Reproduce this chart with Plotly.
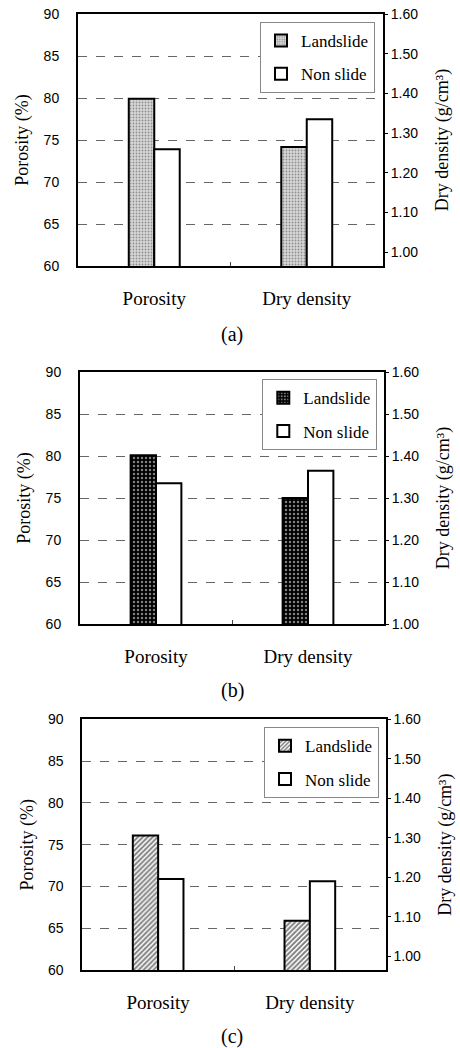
import plotly.graph_objects as go

# ---------------- data ----------------
categories = ["Porosity", "Dry density"]
panel_labels = ["(a)", "(b)", "(c)"]
series_names = ["Landslide", "Non slide"]

porosity_landslide = [79.9, 80.1, 76.1]     # %
porosity_nonslide = [73.9, 76.75, 70.9]     # %
density_landslide = [1.265, 1.30, 1.09]     # g/cm3
density_nonslide = [1.335, 1.365, 1.19]     # g/cm3

left_ticks = [60, 65, 70, 75, 80, 85, 90]
right_ticks = [1.00, 1.10, 1.20, 1.30, 1.40, 1.50, 1.60]

# ---------------- styling / layout geometry ----------------
W, H = 460, 1048
SERIF = "Liberation Serif, Times New Roman, serif"
SANS = "Liberation Sans, Arial, sans-serif"

# plot-area boxes in pixels: (left, right, top, bottom)
boxes = [(78, 383, 14, 266), (80, 384, 372, 624), (82.3, 385.7, 719.3, 970)]
right_ranges = [[0.965, 1.60], [1.00, 1.60], [0.965, 1.60]]
legend_pos = [(375, 22), (377.3, 379.3), (379, 727.3)]
caption_pos = [(232, 335), (232, 690), (232, 1036.7)]
patterns = [
    dict(shape=".", size=3, solidity=0.3, fgcolor="#444", bgcolor="#d8d8d8"),
    dict(shape=".", size=4, solidity=0.3, fgcolor="white", bgcolor="black"),
    dict(shape="/", size=3.5, solidity=0.55, fgcolor="black", bgcolor="white"),
]
BAR_W = 0.167

fig = go.Figure()
layout = dict(
    width=W, height=H, margin=dict(l=0, r=0, t=0, b=0),
    paper_bgcolor="white", plot_bgcolor="white",
    barmode="overlay", annotations=[],
)

for i in range(3):
    xa = "x" if i == 0 else f"x{i+1}"
    yl = "y" if i == 0 else f"y{2*i+1}"
    yr = f"y{2*i+2}"
    leg = "legend" if i == 0 else f"legend{i+1}"
    line = dict(color="black", width=2)

    fig.add_trace(go.Bar(x=[categories[0]], y=[porosity_landslide[i]], xaxis=xa, yaxis=yl,
                         name=series_names[0], legend=leg, legendgroup="L", showlegend=True,
                         width=BAR_W, offset=-BAR_W,
                         marker=dict(color="white", pattern=patterns[i], line=line)))
    fig.add_trace(go.Bar(x=[categories[1]], y=[density_landslide[i]], xaxis=xa, yaxis=yr,
                         name=series_names[0], legend=leg, legendgroup="L", showlegend=False,
                         width=BAR_W, offset=-BAR_W,
                         marker=dict(color="white", pattern=patterns[i], line=line)))
    fig.add_trace(go.Bar(x=[categories[0]], y=[porosity_nonslide[i]], xaxis=xa, yaxis=yl,
                         name=series_names[1], legend=leg, legendgroup="N", showlegend=True,
                         width=BAR_W, offset=0,
                         marker=dict(color="white", line=line)))
    fig.add_trace(go.Bar(x=[categories[1]], y=[density_nonslide[i]], xaxis=xa, yaxis=yr,
                         name=series_names[1], legend=leg, legendgroup="N", showlegend=False,
                         width=BAR_W, offset=0,
                         marker=dict(color="white", line=line)))

    l, r, t, b = boxes[i]
    xdom = [l / W, r / W]
    ydom = [1 - b / H, 1 - t / H]
    xkey = "xaxis" if i == 0 else f"xaxis{i+1}"
    ylkey = "yaxis" if i == 0 else f"yaxis{2*i+1}"
    yrkey = f"yaxis{2*i+2}"

    layout[xkey] = dict(
        domain=xdom, anchor=yl, type="category", categoryorder="array",
        categoryarray=categories, range=[-0.5, 1.5],
        showline=True, linecolor="black", linewidth=2, mirror=True,
        showgrid=False, ticks="inside", tickson="boundaries", ticklen=4, tickcolor="#444",
        tickfont=dict(family=SERIF, size=19, color="black"),
        ticklabelstandoff=14, automargin=False,
    )
    layout[ylkey] = dict(
        domain=ydom, anchor=xa, range=[60, 90], tickvals=left_ticks,
        showline=True, linecolor="black", linewidth=2,
        showgrid=True, gridcolor="#666", griddash="dash", gridwidth=1,
        zeroline=False, ticks="", ticklabelstandoff=14,
        tickfont=dict(family=SANS, size=14, color="black"),
        title=dict(text="Porosity (%)", font=dict(family=SERIF, size=18, color="black"), standoff=10),
        automargin=False,
    )
    layout[yrkey] = dict(
        domain=ydom, anchor=xa, overlaying=yl, side="right",
        range=right_ranges[i], tickvals=right_ticks, tickformat=".2f",
        showline=True, linecolor="black", linewidth=2,
        showgrid=False, zeroline=False, ticks="outside", ticklen=3, tickcolor="black",
        tickfont=dict(family=SANS, size=14, color="black"),
        title=dict(text="Dry density (g/cm³)", font=dict(family=SERIF, size=18, color="black"), standoff=18),
        automargin=False,
    )

    lx, ly = legend_pos[i]
    layout[leg] = dict(
        x=lx / W, y=1 - ly / H, xanchor="right", yanchor="top",
        xref="paper", yref="paper",
        bgcolor="white", bordercolor="#888", borderwidth=1,
        font=dict(family=SERIF, size=17, color="black"),
        tracegroupgap=8, itemwidth=30,
    )

    cx, cy = caption_pos[i]
    layout["annotations"].append(dict(
        text=panel_labels[i], x=cx / W, y=1 - cy / H, xref="paper", yref="paper",
        xanchor="center", yanchor="middle", showarrow=False,
        font=dict(family=SERIF, size=20, color="black"),
    ))

fig.update_layout(**layout)
fig.write_html("out.html")
